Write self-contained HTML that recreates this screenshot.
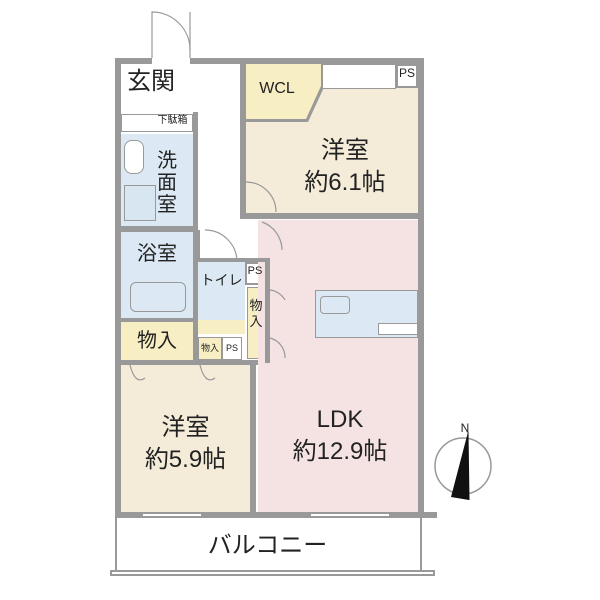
<!DOCTYPE html>
<html><head><meta charset="utf-8"><style>
body{margin:0;width:600px;height:600px;background:#fff;position:relative;overflow:hidden;font-family:"Liberation Sans","Noto Sans CJK JP",sans-serif;}
.b{position:absolute;box-sizing:border-box;}
.w{background:#999;}
.t{position:absolute;color:#222;text-align:center;line-height:1.15;}
</style></head><body>
<div class="b" style="left:121px;top:64px;width:60px;height:50px;background:#fff"></div>
<div class="b" style="left:121px;top:114px;width:72px;height:18px;background:#fff;border:1px solid #999"></div>
<div class="b" style="left:121px;top:134px;width:72px;height:92px;background:#dce9f4"></div>
<div class="b" style="left:124px;top:185px;width:32px;height:36px;border:1px solid #999;background:#d8e6f2"></div>
<div class="b" style="left:124px;top:140px;width:20px;height:34px;border:1px solid #999;border-radius:8px;background:#fff"></div>
<div class="b" style="left:121px;top:232px;width:72px;height:86px;background:#dce9f4"></div>
<div class="b" style="left:130px;top:282px;width:56px;height:30px;border:1px solid #999;border-radius:6px;background:#dce9f4"></div>
<div class="b" style="left:121px;top:322px;width:72px;height:38px;background:#f7eec4"></div>
<div class="b" style="left:198px;top:262px;width:47px;height:58px;background:#dce9f4"></div>
<div class="b" style="left:198px;top:320px;width:47px;height:14px;background:#f7eec4"></div>
<div class="b" style="left:198px;top:337px;width:24px;height:23px;background:#f7eec4;border:1px solid #999"></div>
<div class="b" style="left:222px;top:337px;width:20px;height:23px;background:#fff;border:1px solid #999"></div>
<div class="b" style="left:245px;top:262px;width:20px;height:23px;background:#fff;border:2px solid #999"></div>
<div class="b" style="left:247px;top:287px;width:18px;height:72px;background:#f7eec4;border:1px solid #999"></div>
<div class="b" style="left:244px;top:64px;width:174px;height:150px;background:#f4ecd9"></div>
<div class="b" style="left:246px;top:64px;width:78px;height:58px;background:#999;clip-path:polygon(0 0,100% 0,100% 40%,62px 100%,0 100%)"></div>
<div class="b" style="left:246px;top:64px;width:75px;height:55px;background:#f7eec4;clip-path:polygon(0 0,100% 0,100% 40%,60px 100%,0 100%)"></div>
<div class="b" style="left:322px;top:64px;width:74px;height:25px;background:#fff;border:1px solid #999"></div>
<div class="b" style="left:396px;top:64px;width:22px;height:24px;background:#fff;border:2px solid #999"></div>
<div class="b" style="left:258px;top:220px;width:160px;height:292px;background:#f5e3e3"></div>
<div class="b" style="left:315px;top:290px;width:103px;height:48px;background:#dce9f4;border:1px solid #999"></div>
<div class="b" style="left:320px;top:296px;width:30px;height:18px;border:1px solid #999;border-radius:4px"></div>
<div class="b" style="left:378px;top:323px;width:40px;height:12px;background:#fff;border:1px solid #999"></div>
<div class="b" style="left:121px;top:365px;width:129px;height:147px;background:#f4ecd9"></div>
<div class="b w" style="left:115px;top:58px;width:37px;height:6px"></div>
<div class="b w" style="left:190px;top:58px;width:234px;height:6px"></div>
<div class="b w" style="left:115px;top:58px;width:6px;height:460px"></div>
<div class="b w" style="left:418px;top:58px;width:6px;height:460px"></div>
<div class="b w" style="left:115px;top:512px;width:322px;height:6px"></div>
<div class="b w" style="left:193px;top:112px;width:5px;height:253px"></div>
<div class="b w" style="left:240px;top:64px;width:6px;height:150px"></div>
<div class="b w" style="left:240px;top:213px;width:178px;height:6px"></div>
<div class="b w" style="left:121px;top:226px;width:72px;height:6px"></div>
<div class="b w" style="left:121px;top:318px;width:72px;height:4px"></div>
<div class="b w" style="left:121px;top:360px;width:137px;height:5px"></div>
<div class="b w" style="left:198px;top:258px;width:67px;height:4px"></div>
<div class="b w" style="left:265px;top:258px;width:5px;height:105px"></div>
<div class="b w" style="left:250px;top:360px;width:6px;height:152px"></div>
<div class="b w" style="left:196px;top:230px;width:4px;height:30px"></div>
<div class="b" style="left:142px;top:513px;width:60px;height:4px;background:#fff;border:1px solid #999"></div>
<div class="b" style="left:310px;top:513px;width:80px;height:4px;background:#fff;border:1px solid #999"></div>
<div class="b" style="left:115px;top:518px;width:2px;height:54px;background:#999"></div>
<div class="b" style="left:420px;top:518px;width:2px;height:54px;background:#999"></div>
<div class="b" style="left:110px;top:570px;width:325px;height:6px;background:#fff;border:2px solid #999"></div>
<svg class="b" style="left:0;top:0" width="600" height="600">
<g fill="none" stroke="#999" stroke-width="1.2">
<path d="M152 58 V12 A38 38 0 0 1 190 50"/>
<line x1="190" y1="12" x2="190" y2="58"/>
<path d="M246 182 A30 30 0 0 1 276 212"/>
<path d="M262 222 A30 30 0 0 1 282 250"/>
<path d="M205 230 A32 32 0 0 1 237 262"/>
<path d="M270 290 A20 20 0 0 1 285 300"/>
<path d="M270 338 A20 20 0 0 1 285 358"/>
<path d="M130 365 Q135 385 145 378"/>
<path d="M200 365 Q205 385 215 378"/>
</g>
<circle cx="463" cy="466" r="28" fill="#fff" stroke="#999" stroke-width="1.5"/>
<polygon points="468,432 451,497 469,500" fill="#111"/>
<line x1="468" y1="432" x2="469" y2="500" stroke="#111"/>
</svg>
<div class="t" style="left:121px;top:68px;width:60px;font-size:24px">玄関</div>
<div class="t" style="left:150px;top:115px;width:45px;font-size:10px">下駄箱</div>
<div class="t" style="left:157px;top:150px;width:20px;font-size:20px;line-height:22px">洗<br>面<br>室</div>
<div class="t" style="left:121px;top:243px;width:72px;font-size:20px">浴室</div>
<div class="t" style="left:121px;top:330px;width:72px;font-size:20px">物入</div>
<div class="t" style="left:198px;top:272px;width:47px;font-size:14px">トイレ</div>
<div class="t" style="left:245px;top:265px;width:20px;font-size:11px">PS</div>
<div class="t" style="left:247px;top:298px;width:18px;font-size:13px;line-height:16px">物<br>入</div>
<div class="t" style="left:198px;top:343px;width:24px;font-size:9px">物入</div>
<div class="t" style="left:222px;top:343px;width:20px;font-size:9px">PS</div>
<div class="t" style="left:246px;top:80px;width:62px;font-size:16px">WCL</div>
<div class="t" style="left:396px;top:67px;width:22px;font-size:12px">PS</div>
<div class="t" style="left:280px;top:135px;width:130px;font-size:24px;line-height:32px">洋室<br>約6.1帖</div>
<div class="t" style="left:121px;top:412px;width:129px;font-size:24px;line-height:32px">洋室<br>約5.9帖</div>
<div class="t" style="left:265px;top:404px;width:150px;font-size:24px;line-height:32px">LDK<br>約12.9帖</div>
<div class="t" style="left:115px;top:532px;width:305px;font-size:24px">バルコニー</div>
<div class="t" style="left:458px;top:422px;width:14px;font-size:12px">N</div>
</body></html>
